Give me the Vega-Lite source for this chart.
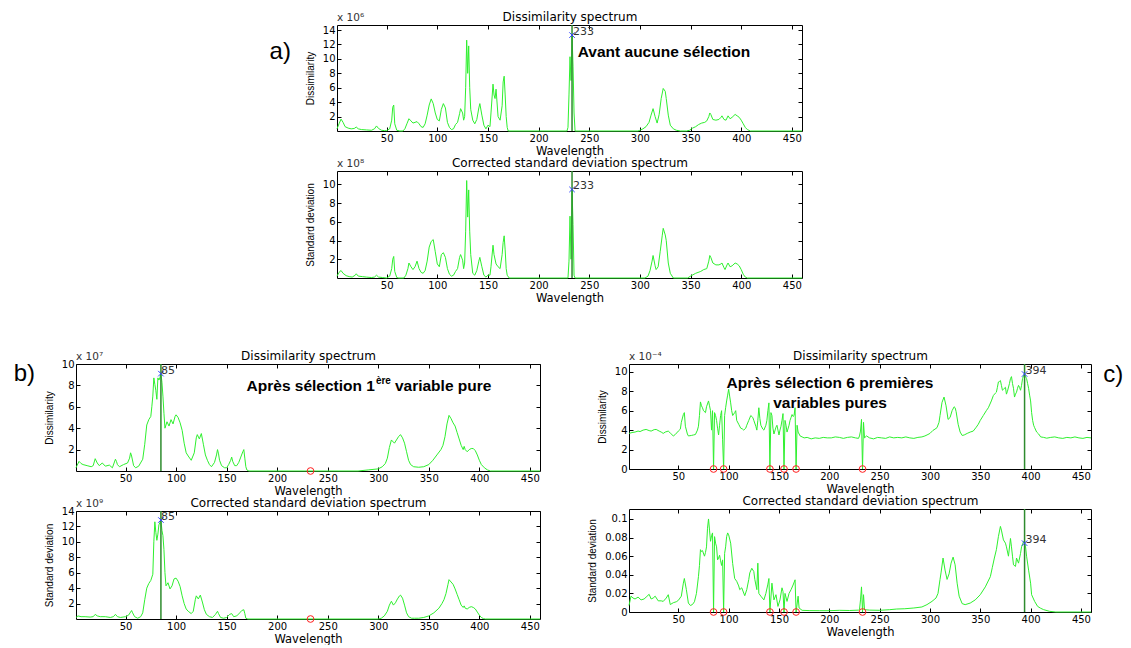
{
"$schema": "https://vega.github.io/schema/vega-lite/v6.json",
"background": "white",
"padding": {"left": 13, "top": 10, "right": 0, "bottom": 0},
"autosize": {"type": "pad"},
"config": {
  "view": {"stroke": "#000", "strokeWidth": 1},
  "axis": {"domain": false, "grid": false, "ticks": true, "tickSize": -4, "tickColor": "#000", "tickWidth": 1,
           "labelFont": "DejaVu Sans", "labelFontSize": 10, "labelColor": "#000", "labelPadding": 6,
           "titleFont": "DejaVu Sans", "titleFontSize": 11.5, "titleFontWeight": "normal", "titleColor": "#000", "titlePadding": 2},
  "axisTop": {"titleFontSize": 12, "titlePadding": 1},
  "axisY": {"titleFont": "Liberation Sans", "titleFontSize": 10, "titlePadding": 7}
},
"datasets": {
"a_top": [
{"w":1,"v":0.3},{"w":3,"v":1.0},{"w":5,"v":1.65},{"w":7,"v":1.2},{"w":9,"v":0.6},{"w":12,"v":0.4},{"w":15,"v":0.3},{"w":18,"v":0.35},{"w":20,"v":0.55},{"w":22,"v":0.3},{"w":25,"v":0.2},{"w":30,"v":0.15},{"w":35,"v":0.1},{"w":38,"v":0.3},{"w":40,"v":0.7},{"w":42,"v":0.35},{"w":45,"v":0.1},{"w":48,"v":0.05},{"w":50,"v":0.05},{"w":53,"v":0.3},{"w":55,"v":1.5},{"w":56,"v":3.3},{"w":57,"v":3.6},{"w":58,"v":1.0},{"w":60,"v":0.1},{"w":63,"v":0},{"w":66,"v":0},{"w":68,"v":0.3},{"w":70,"v":1.0},{"w":72,"v":1.7},{"w":74,"v":1.4},{"w":76,"v":1.1},{"w":78,"v":1.2},{"w":80,"v":1.3},{"w":82,"v":1.0},{"w":84,"v":0.6},{"w":86,"v":0.5},{"w":88,"v":1.0},{"w":90,"v":2.2},{"w":92,"v":3.6},{"w":94,"v":4.45},{"w":96,"v":3.8},{"w":98,"v":2.5},{"w":100,"v":1.6},{"w":102,"v":1.4},{"w":104,"v":3.0},{"w":106,"v":3.8},{"w":108,"v":3.2},{"w":110,"v":1.2},{"w":112,"v":0.5},{"w":114,"v":0.2},{"w":116,"v":0.3},{"w":118,"v":0.9},{"w":120,"v":1.2},{"w":122,"v":2.4},{"w":123,"v":3.1},{"w":125,"v":2.5},{"w":126,"v":1.5},{"w":127,"v":2.0},{"w":128,"v":6.0},{"w":129,"v":12.6},{"w":130,"v":8.0},{"w":131,"v":11.8},{"w":132,"v":6.0},{"w":133,"v":3.0},{"w":135,"v":1.5},{"w":137,"v":1.0},{"w":139,"v":1.6},{"w":141,"v":3.2},{"w":142,"v":3.8},{"w":144,"v":2.2},{"w":146,"v":0.8},{"w":148,"v":0.3},{"w":150,"v":0.8},{"w":152,"v":0.6},{"w":153,"v":2.5},{"w":155,"v":6.5},{"w":156,"v":5.0},{"w":157,"v":4.5},{"w":158,"v":5.8},{"w":160,"v":2.0},{"w":162,"v":1.5},{"w":164,"v":3.5},{"w":165,"v":6.8},{"w":166,"v":7.6},{"w":167,"v":5.0},{"w":168,"v":2.0},{"w":169,"v":0.5},{"w":170,"v":0},{"w":228,"v":0},{"w":229,"v":0.5},{"w":230,"v":5.0},{"w":231,"v":10.3},{"w":232,"v":7.0},{"w":233,"v":13.3},{"w":234,"v":9.0},{"w":235,"v":2.5},{"w":236,"v":0},{"w":298,"v":0},{"w":300,"v":0.1},{"w":303,"v":0.3},{"w":306,"v":0.6},{"w":309,"v":1.2},{"w":311,"v":2.2},{"w":313,"v":3.1},{"w":315,"v":2.0},{"w":317,"v":1.1},{"w":319,"v":2.3},{"w":321,"v":4.5},{"w":323,"v":5.9},{"w":325,"v":5.5},{"w":326,"v":4.5},{"w":328,"v":2.2},{"w":330,"v":0.8},{"w":333,"v":0.3},{"w":336,"v":0.1},{"w":340,"v":0},{"w":346,"v":0},{"w":349,"v":0.1},{"w":352,"v":0.4},{"w":355,"v":0.6},{"w":358,"v":0.9},{"w":361,"v":1.1},{"w":364,"v":1.2},{"w":366,"v":1.4},{"w":368,"v":2.0},{"w":369,"v":2.5},{"w":370,"v":2.3},{"w":372,"v":1.6},{"w":375,"v":1.5},{"w":378,"v":1.6},{"w":380,"v":1.9},{"w":381,"v":2.1},{"w":383,"v":1.6},{"w":385,"v":1.5},{"w":387,"v":2.1},{"w":389,"v":1.7},{"w":391,"v":1.9},{"w":394,"v":2.3},{"w":396,"v":2.1},{"w":398,"v":1.9},{"w":400,"v":1.5},{"w":402,"v":1.0},{"w":404,"v":0.5},{"w":406,"v":0.2},{"w":409,"v":0},{"w":460,"v":0}
],
"a_bot": [
{"w":1,"v":0.2},{"w":3,"v":0.6},{"w":5,"v":0.8},{"w":7,"v":0.5},{"w":10,"v":0.25},{"w":13,"v":0.15},{"w":16,"v":0.1},{"w":19,"v":0.3},{"w":20,"v":0.45},{"w":22,"v":0.2},{"w":26,"v":0.15},{"w":30,"v":0.1},{"w":35,"v":0.05},{"w":38,"v":0.1},{"w":40,"v":0.3},{"w":42,"v":0.1},{"w":46,"v":0.05},{"w":50,"v":0},{"w":53,"v":0.2},{"w":55,"v":1.0},{"w":56,"v":2.0},{"w":57,"v":2.3},{"w":58,"v":0.7},{"w":60,"v":0.05},{"w":62,"v":0},{"w":67,"v":0},{"w":69,"v":0.3},{"w":71,"v":1.0},{"w":72,"v":1.6},{"w":74,"v":1.2},{"w":76,"v":0.9},{"w":78,"v":1.2},{"w":80,"v":1.8},{"w":82,"v":1.0},{"w":84,"v":0.6},{"w":86,"v":0.5},{"w":88,"v":0.8},{"w":90,"v":1.8},{"w":92,"v":3.3},{"w":94,"v":3.9},{"w":96,"v":4.1},{"w":98,"v":2.8},{"w":100,"v":1.5},{"w":102,"v":1.2},{"w":104,"v":2.5},{"w":106,"v":2.7},{"w":108,"v":2.2},{"w":110,"v":1.0},{"w":112,"v":0.4},{"w":114,"v":0.2},{"w":116,"v":0.3},{"w":118,"v":0.7},{"w":120,"v":1.0},{"w":122,"v":2.2},{"w":123,"v":2.5},{"w":125,"v":1.9},{"w":126,"v":1.0},{"w":127,"v":1.6},{"w":128,"v":5.0},{"w":129,"v":10.4},{"w":130,"v":6.5},{"w":131,"v":9.4},{"w":132,"v":5.0},{"w":133,"v":2.5},{"w":135,"v":0.5},{"w":137,"v":0.3},{"w":139,"v":0.8},{"w":141,"v":1.8},{"w":142,"v":2.2},{"w":144,"v":1.2},{"w":146,"v":0.3},{"w":148,"v":0.1},{"w":150,"v":0.3},{"w":152,"v":0.3},{"w":153,"v":1.2},{"w":155,"v":3.5},{"w":156,"v":2.5},{"w":158,"v":1.5},{"w":160,"v":1.2},{"w":162,"v":1.0},{"w":164,"v":2.5},{"w":165,"v":3.8},{"w":166,"v":4.5},{"w":167,"v":3.0},{"w":168,"v":1.0},{"w":169,"v":0.3},{"w":171,"v":0},{"w":229,"v":0},{"w":230,"v":1.8},{"w":231,"v":6.6},{"w":232,"v":2.0},{"w":233,"v":9.45},{"w":234,"v":5.7},{"w":235,"v":0.3},{"w":236,"v":0},{"w":305,"v":0},{"w":308,"v":0.2},{"w":310,"v":0.8},{"w":312,"v":1.8},{"w":313,"v":2.4},{"w":315,"v":1.3},{"w":316,"v":0.9},{"w":318,"v":1.2},{"w":320,"v":2.8},{"w":322,"v":4.5},{"w":323,"v":5.3},{"w":325,"v":4.6},{"w":326,"v":4.0},{"w":328,"v":1.6},{"w":330,"v":0.5},{"w":333,"v":0},{"w":347,"v":0},{"w":350,"v":0.2},{"w":355,"v":0.5},{"w":360,"v":0.7},{"w":363,"v":0.9},{"w":366,"v":1.0},{"w":368,"v":1.8},{"w":369,"v":2.4},{"w":370,"v":2.2},{"w":372,"v":1.6},{"w":375,"v":1.4},{"w":378,"v":1.4},{"w":380,"v":1.5},{"w":381,"v":1.6},{"w":383,"v":1.1},{"w":384,"v":0.9},{"w":386,"v":1.4},{"w":387,"v":1.6},{"w":389,"v":1.2},{"w":391,"v":1.3},{"w":394,"v":1.6},{"w":396,"v":1.5},{"w":398,"v":1.3},{"w":400,"v":0.9},{"w":402,"v":0.4},{"w":404,"v":0.1},{"w":406,"v":0},{"w":460,"v":0}
],
"b_top": [
{"w":1,"v":0.3},{"w":2,"v":0.5},{"w":4,"v":0.9},{"w":6,"v":0.7},{"w":8,"v":0.6},{"w":12,"v":0.5},{"w":16,"v":0.4},{"w":18,"v":0.5},{"w":20,"v":1.15},{"w":22,"v":0.75},{"w":24,"v":0.5},{"w":27,"v":0.75},{"w":30,"v":0.45},{"w":34,"v":0.55},{"w":37,"v":0.3},{"w":40,"v":1.1},{"w":41,"v":0.9},{"w":42,"v":0.6},{"w":44,"v":0.4},{"w":48,"v":0.6},{"w":52,"v":0.75},{"w":54,"v":1.2},{"w":55,"v":1.7},{"w":56,"v":1.4},{"w":58,"v":0.5},{"w":60,"v":0.3},{"w":63,"v":0.45},{"w":67,"v":1.1},{"w":69,"v":2.5},{"w":71,"v":4.3},{"w":73,"v":4.8},{"w":75,"v":5.1},{"w":76,"v":6.0},{"w":77,"v":7.0},{"w":78,"v":8.7},{"w":79,"v":8.1},{"w":80,"v":7.5},{"w":81,"v":6.7},{"w":82,"v":8.7},{"w":83,"v":8.5},{"w":84,"v":8.7},{"w":85,"v":9.1},{"w":86,"v":8.3},{"w":87,"v":7.0},{"w":88,"v":5.4},{"w":89,"v":4.0},{"w":91,"v":4.6},{"w":93,"v":4.2},{"w":95,"v":4.8},{"w":97,"v":4.4},{"w":99,"v":5.1},{"w":100,"v":5.25},{"w":102,"v":5.0},{"w":104,"v":4.5},{"w":106,"v":3.8},{"w":108,"v":2.6},{"w":110,"v":1.7},{"w":112,"v":1.4},{"w":115,"v":1.0},{"w":118,"v":1.7},{"w":120,"v":3.1},{"w":121,"v":3.4},{"w":123,"v":3.0},{"w":125,"v":3.5},{"w":127,"v":2.5},{"w":129,"v":1.5},{"w":131,"v":1.0},{"w":133,"v":0.6},{"w":135,"v":0.4},{"w":138,"v":0.8},{"w":140,"v":1.5},{"w":141,"v":2.0},{"w":142,"v":1.6},{"w":143,"v":1.0},{"w":145,"v":0.5},{"w":148,"v":0.3},{"w":150,"v":0.3},{"w":152,"v":0.6},{"w":154,"v":1.0},{"w":155,"v":1.3},{"w":156,"v":0.9},{"w":158,"v":0.5},{"w":160,"v":0.5},{"w":162,"v":0.8},{"w":164,"v":1.3},{"w":166,"v":1.8},{"w":167,"v":2.0},{"w":168,"v":1.2},{"w":169,"v":0.4},{"w":170,"v":0.1},{"w":172,"v":0},{"w":280,"v":0},{"w":290,"v":0.1},{"w":300,"v":0.2},{"w":304,"v":0.4},{"w":307,"v":0.7},{"w":309,"v":1.2},{"w":311,"v":2.2},{"w":313,"v":2.9},{"w":315,"v":2.7},{"w":316,"v":2.6},{"w":318,"v":2.9},{"w":320,"v":3.2},{"w":322,"v":3.4},{"w":324,"v":3.1},{"w":326,"v":2.6},{"w":328,"v":1.8},{"w":330,"v":1.0},{"w":332,"v":0.6},{"w":335,"v":0.4},{"w":340,"v":0.35},{"w":345,"v":0.4},{"w":350,"v":0.6},{"w":354,"v":1.0},{"w":358,"v":1.5},{"w":362,"v":2.0},{"w":364,"v":2.4},{"w":366,"v":3.2},{"w":368,"v":4.4},{"w":370,"v":5.2},{"w":372,"v":4.9},{"w":374,"v":4.5},{"w":376,"v":4.2},{"w":378,"v":3.6},{"w":380,"v":3.0},{"w":382,"v":2.4},{"w":384,"v":2.0},{"w":385,"v":2.3},{"w":386,"v":2.0},{"w":388,"v":1.8},{"w":390,"v":2.0},{"w":392,"v":2.1},{"w":394,"v":2.1},{"w":396,"v":1.9},{"w":398,"v":1.5},{"w":400,"v":1.0},{"w":402,"v":0.6},{"w":405,"v":0.3},{"w":408,"v":0.1},{"w":411,"v":0},{"w":460,"v":0}
],
"b_bot": [
{"w":1,"v":0.2},{"w":3,"v":0.4},{"w":6,"v":0.3},{"w":10,"v":0.3},{"w":15,"v":0.25},{"w":18,"v":0.3},{"w":20,"v":0.6},{"w":22,"v":0.4},{"w":25,"v":0.3},{"w":30,"v":0.3},{"w":35,"v":0.2},{"w":38,"v":0.3},{"w":40,"v":0.6},{"w":42,"v":0.3},{"w":45,"v":0.2},{"w":50,"v":0.3},{"w":53,"v":0.5},{"w":55,"v":0.9},{"w":56,"v":1.1},{"w":57,"v":0.8},{"w":59,"v":0.3},{"w":62,"v":0.1},{"w":65,"v":0.3},{"w":67,"v":0.8},{"w":69,"v":2.5},{"w":71,"v":4.0},{"w":73,"v":4.6},{"w":75,"v":5.0},{"w":77,"v":5.8},{"w":78,"v":10.0},{"w":79,"v":12.6},{"w":80,"v":11.2},{"w":81,"v":10.2},{"w":82,"v":11.0},{"w":83,"v":12.2},{"w":84,"v":12.5},{"w":85,"v":12.83},{"w":86,"v":11.5},{"w":87,"v":10.8},{"w":88,"v":9.0},{"w":89,"v":6.0},{"w":90,"v":4.3},{"w":92,"v":4.7},{"w":94,"v":3.9},{"w":96,"v":4.3},{"w":98,"v":5.2},{"w":100,"v":5.3},{"w":102,"v":4.9},{"w":104,"v":4.2},{"w":106,"v":3.0},{"w":108,"v":2.0},{"w":110,"v":1.3},{"w":112,"v":1.0},{"w":115,"v":0.7},{"w":117,"v":1.0},{"w":119,"v":2.5},{"w":120,"v":3.0},{"w":122,"v":2.6},{"w":124,"v":3.1},{"w":126,"v":2.2},{"w":128,"v":1.2},{"w":130,"v":0.6},{"w":133,"v":0.3},{"w":136,"v":0.2},{"w":139,"v":0.6},{"w":141,"v":1.0},{"w":142,"v":0.7},{"w":144,"v":0.2},{"w":147,"v":0.1},{"w":150,"v":0.2},{"w":153,"v":0.6},{"w":155,"v":0.7},{"w":157,"v":0.3},{"w":160,"v":0.4},{"w":163,"v":0.8},{"w":165,"v":1.1},{"w":167,"v":1.2},{"w":168,"v":0.7},{"w":169,"v":0.1},{"w":171,"v":0},{"w":300,"v":0},{"w":303,"v":0.1},{"w":306,"v":0.4},{"w":309,"v":1.0},{"w":311,"v":1.8},{"w":313,"v":2.3},{"w":315,"v":1.8},{"w":317,"v":2.1},{"w":319,"v":2.6},{"w":321,"v":3.0},{"w":322,"v":3.1},{"w":324,"v":2.7},{"w":326,"v":1.8},{"w":328,"v":0.8},{"w":330,"v":0.3},{"w":333,"v":0.1},{"w":336,"v":0.1},{"w":340,"v":0.1},{"w":345,"v":0.2},{"w":350,"v":0.4},{"w":355,"v":0.8},{"w":360,"v":1.4},{"w":363,"v":2.0},{"w":365,"v":2.5},{"w":367,"v":3.3},{"w":369,"v":4.5},{"w":370,"v":5.1},{"w":372,"v":4.8},{"w":374,"v":4.5},{"w":376,"v":3.9},{"w":378,"v":3.2},{"w":380,"v":2.5},{"w":382,"v":1.8},{"w":384,"v":1.5},{"w":385,"v":1.7},{"w":386,"v":1.4},{"w":388,"v":1.3},{"w":390,"v":1.5},{"w":392,"v":1.6},{"w":394,"v":1.5},{"w":396,"v":1.3},{"w":398,"v":0.9},{"w":400,"v":0.5},{"w":402,"v":0.2},{"w":404,"v":0.05},{"w":406,"v":0},{"w":460,"v":0}
],
"c_top": [
{"w":1,"v":3.66},{"w":4,"v":3.75},{"w":7,"v":3.8},{"w":10,"v":3.9},{"w":12,"v":3.85},{"w":15,"v":4.0},{"w":18,"v":4.07},{"w":21,"v":3.95},{"w":23,"v":3.9},{"w":26,"v":4.05},{"w":28,"v":4.07},{"w":31,"v":3.9},{"w":33,"v":3.8},{"w":35,"v":3.66},{"w":37,"v":3.8},{"w":40,"v":3.9},{"w":42,"v":3.7},{"w":45,"v":3.4},{"w":47,"v":3.55},{"w":50,"v":3.9},{"w":52,"v":4.1},{"w":53,"v":4.8},{"w":55,"v":5.6},{"w":56,"v":5.8},{"w":57,"v":4.4},{"w":59,"v":3.6},{"w":60,"v":3.4},{"w":63,"v":3.45},{"w":65,"v":3.5},{"w":67,"v":3.55},{"w":69,"v":4.0},{"w":70,"v":4.4},{"w":71,"v":5.5},{"w":72,"v":6.9},{"w":73,"v":6.5},{"w":74,"v":6.3},{"w":75,"v":6.0},{"w":77,"v":5.8},{"w":78,"v":6.4},{"w":80,"v":7.0},{"w":81,"v":6.5},{"w":82,"v":6.0},{"w":83,"v":4.0},{"w":84,"v":6.0},{"w":85,"v":0},{"w":86,"v":5.8},{"w":87,"v":5.5},{"w":88,"v":5.0},{"w":89,"v":4.2},{"w":90,"v":3.5},{"w":91,"v":4.5},{"w":92,"v":5.5},{"w":93,"v":6.0},{"w":94,"v":3.0},{"w":95,"v":0},{"w":96,"v":5.5},{"w":97,"v":6.3},{"w":98,"v":7.0},{"w":99,"v":7.6},{"w":100,"v":8.2},{"w":101,"v":7.5},{"w":102,"v":6.8},{"w":103,"v":6.0},{"w":104,"v":5.5},{"w":106,"v":5.8},{"w":107,"v":6.0},{"w":108,"v":5.0},{"w":110,"v":4.6},{"w":112,"v":4.2},{"w":114,"v":4.1},{"w":115,"v":4.0},{"w":117,"v":4.2},{"w":118,"v":4.5},{"w":120,"v":5.0},{"w":122,"v":5.5},{"w":124,"v":5.3},{"w":125,"v":5.0},{"w":127,"v":4.4},{"w":128,"v":4.0},{"w":129,"v":5.0},{"w":130,"v":6.3},{"w":131,"v":5.2},{"w":132,"v":4.5},{"w":134,"v":4.1},{"w":135,"v":4.0},{"w":137,"v":4.5},{"w":138,"v":5.0},{"w":139,"v":6.0},{"w":140,"v":6.8},{"w":141,"v":0},{"w":142,"v":5.8},{"w":143,"v":5.5},{"w":144,"v":4.2},{"w":145,"v":3.6},{"w":147,"v":4.3},{"w":148,"v":4.5},{"w":149,"v":4.0},{"w":150,"v":3.5},{"w":151,"v":4.0},{"w":152,"v":4.4},{"w":153,"v":5.0},{"w":154,"v":5.7},{"w":155,"v":0},{"w":156,"v":5.0},{"w":157,"v":4.5},{"w":158,"v":3.8},{"w":160,"v":4.5},{"w":161,"v":5.0},{"w":162,"v":5.3},{"w":163,"v":5.6},{"w":164,"v":5.4},{"w":165,"v":5.5},{"w":166,"v":6.3},{"w":167,"v":0},{"w":168,"v":4.5},{"w":169,"v":3.8},{"w":171,"v":3.4},{"w":173,"v":3.3},{"w":175,"v":3.2},{"w":178,"v":3.25},{"w":182,"v":3.1},{"w":186,"v":3.2},{"w":190,"v":3.15},{"w":194,"v":3.25},{"w":198,"v":3.2},{"w":202,"v":3.2},{"w":206,"v":3.3},{"w":210,"v":3.25},{"w":214,"v":3.15},{"w":218,"v":3.25},{"w":222,"v":3.3},{"w":226,"v":3.2},{"w":229,"v":3.15},{"w":230,"v":3.4},{"w":231,"v":3.9},{"w":232,"v":5.1},{"w":233,"v":0},{"w":234,"v":4.8},{"w":235,"v":3.2},{"w":237,"v":3.4},{"w":240,"v":3.2},{"w":244,"v":3.1},{"w":248,"v":3.25},{"w":252,"v":3.2},{"w":256,"v":3.15},{"w":260,"v":3.3},{"w":264,"v":3.2},{"w":268,"v":3.25},{"w":272,"v":3.2},{"w":276,"v":3.3},{"w":280,"v":3.2},{"w":284,"v":3.15},{"w":288,"v":3.25},{"w":292,"v":3.3},{"w":295,"v":3.4},{"w":298,"v":3.55},{"w":300,"v":3.66},{"w":303,"v":3.97},{"w":305,"v":4.1},{"w":307,"v":4.25},{"w":309,"v":4.8},{"w":310,"v":5.5},{"w":312,"v":6.86},{"w":314,"v":7.4},{"w":316,"v":6.5},{"w":318,"v":5.1},{"w":320,"v":5.3},{"w":322,"v":6.0},{"w":324,"v":6.4},{"w":325,"v":6.3},{"w":326,"v":5.9},{"w":328,"v":4.6},{"w":330,"v":3.8},{"w":332,"v":3.45},{"w":334,"v":3.5},{"w":337,"v":3.66},{"w":340,"v":3.8},{"w":343,"v":3.9},{"w":346,"v":4.3},{"w":348,"v":4.6},{"w":350,"v":5.0},{"w":353,"v":5.5},{"w":356,"v":6.0},{"w":358,"v":6.3},{"w":361,"v":7.0},{"w":363,"v":7.56},{"w":365,"v":7.8},{"w":366,"v":7.9},{"w":367,"v":8.4},{"w":368,"v":8.95},{"w":369,"v":9.0},{"w":370,"v":9.1},{"w":371,"v":8.6},{"w":372,"v":8.1},{"w":373,"v":8.2},{"w":375,"v":8.4},{"w":376,"v":7.7},{"w":377,"v":8.0},{"w":379,"v":8.8},{"w":380,"v":9.3},{"w":381,"v":9.5},{"w":382,"v":8.8},{"w":383,"v":8.3},{"w":384,"v":7.4},{"w":385,"v":7.7},{"w":386,"v":7.9},{"w":387,"v":8.3},{"w":388,"v":8.6},{"w":389,"v":8.4},{"w":390,"v":8.1},{"w":391,"v":8.6},{"w":392,"v":9.3},{"w":393,"v":9.6},{"w":394,"v":9.8},{"w":395,"v":9.5},{"w":396,"v":9.3},{"w":397,"v":8.8},{"w":398,"v":8.3},{"w":399,"v":7.6},{"w":400,"v":7.0},{"w":401,"v":5.8},{"w":402,"v":5.0},{"w":403,"v":4.5},{"w":404,"v":4.25},{"w":406,"v":3.8},{"w":408,"v":3.6},{"w":410,"v":3.3},{"w":413,"v":3.25},{"w":416,"v":3.17},{"w":420,"v":3.25},{"w":424,"v":3.3},{"w":428,"v":3.2},{"w":432,"v":3.15},{"w":436,"v":3.25},{"w":440,"v":3.2},{"w":444,"v":3.3},{"w":448,"v":3.2},{"w":452,"v":3.15},{"w":456,"v":3.25},{"w":460,"v":3.2}
],
"c_bot": [
{"w":1,"v":0.007},{"w":3,"v":0.017},{"w":5,"v":0.015},{"w":7,"v":0.014},{"w":10,"v":0.016},{"w":13,"v":0.013},{"w":16,"v":0.014},{"w":18,"v":0.016},{"w":21,"v":0.019},{"w":23,"v":0.014},{"w":25,"v":0.015},{"w":27,"v":0.017},{"w":30,"v":0.012},{"w":33,"v":0.012},{"w":35,"v":0.0114},{"w":38,"v":0.015},{"w":40,"v":0.0186},{"w":42,"v":0.008},{"w":45,"v":0.01},{"w":48,"v":0.011},{"w":50,"v":0.0125},{"w":53,"v":0.017},{"w":55,"v":0.031},{"w":56,"v":0.036},{"w":58,"v":0.024},{"w":60,"v":0.0096},{"w":62,"v":0.007},{"w":64,"v":0.008},{"w":66,"v":0.011},{"w":68,"v":0.02},{"w":70,"v":0.038},{"w":71,"v":0.05},{"w":72,"v":0.067},{"w":73,"v":0.065},{"w":74,"v":0.066},{"w":76,"v":0.06},{"w":77,"v":0.064},{"w":78,"v":0.07},{"w":79,"v":0.09},{"w":80,"v":0.1},{"w":81,"v":0.088},{"w":82,"v":0.076},{"w":83,"v":0.082},{"w":84,"v":0.085},{"w":85,"v":0},{"w":86,"v":0.081},{"w":87,"v":0.074},{"w":88,"v":0.07},{"w":89,"v":0.056},{"w":90,"v":0.058},{"w":91,"v":0.061},{"w":92,"v":0.055},{"w":93,"v":0.05},{"w":94,"v":0.056},{"w":95,"v":0},{"w":96,"v":0.063},{"w":97,"v":0.07},{"w":98,"v":0.081},{"w":99,"v":0.085},{"w":100,"v":0.083},{"w":102,"v":0.074},{"w":104,"v":0.052},{"w":106,"v":0.036},{"w":108,"v":0.033},{"w":110,"v":0.028},{"w":111,"v":0.024},{"w":113,"v":0.026},{"w":116,"v":0.0175},{"w":118,"v":0.024},{"w":120,"v":0.035},{"w":121,"v":0.042},{"w":123,"v":0.047},{"w":125,"v":0.0435},{"w":126,"v":0.035},{"w":128,"v":0.024},{"w":129,"v":0.0525},{"w":130,"v":0.02},{"w":132,"v":0.017},{"w":135,"v":0.013},{"w":137,"v":0.02},{"w":139,"v":0.03},{"w":140,"v":0.036},{"w":141,"v":0},{"w":143,"v":0.031},{"w":145,"v":0.013},{"w":147,"v":0.0186},{"w":149,"v":0.006},{"w":151,"v":0.013},{"w":153,"v":0.026},{"w":154,"v":0.022},{"w":155,"v":0},{"w":156,"v":0.02},{"w":158,"v":0.0114},{"w":160,"v":0.02},{"w":162,"v":0.024},{"w":164,"v":0.029},{"w":166,"v":0.0346},{"w":167,"v":0},{"w":169,"v":0.017},{"w":170,"v":0.0043},{"w":173,"v":0.0018},{"w":180,"v":0.0015},{"w":190,"v":0.0014},{"w":200,"v":0.0014},{"w":210,"v":0.0018},{"w":220,"v":0.0016},{"w":229,"v":0.002},{"w":230,"v":0.0025},{"w":231,"v":0.013},{"w":232,"v":0.027},{"w":233,"v":0},{"w":234,"v":0.0186},{"w":235,"v":0.0025},{"w":240,"v":0.002},{"w":250,"v":0.0018},{"w":260,"v":0.0025},{"w":267,"v":0.0032},{"w":275,"v":0.0035},{"w":284,"v":0.0043},{"w":292,"v":0.0054},{"w":297,"v":0.0079},{"w":302,"v":0.0114},{"w":306,"v":0.015},{"w":308,"v":0.02},{"w":310,"v":0.035},{"w":311,"v":0.042},{"w":313,"v":0.058},{"w":315,"v":0.045},{"w":317,"v":0.035},{"w":319,"v":0.041},{"w":321,"v":0.0525},{"w":323,"v":0.059},{"w":325,"v":0.0507},{"w":327,"v":0.031},{"w":329,"v":0.017},{"w":332,"v":0.009},{"w":335,"v":0.0079},{"w":340,"v":0.0096},{"w":345,"v":0.013},{"w":350,"v":0.0186},{"w":355,"v":0.027},{"w":360,"v":0.038},{"w":362,"v":0.048},{"w":364,"v":0.058},{"w":366,"v":0.067},{"w":368,"v":0.081},{"w":370,"v":0.092},{"w":371,"v":0.088},{"w":373,"v":0.0775},{"w":375,"v":0.074},{"w":376,"v":0.07},{"w":378,"v":0.06},{"w":380,"v":0.079},{"w":381,"v":0.07},{"w":382,"v":0.06},{"w":383,"v":0.0507},{"w":385,"v":0.049},{"w":386,"v":0.058},{"w":388,"v":0.0525},{"w":390,"v":0.063},{"w":391,"v":0.07},{"w":393,"v":0.0757},{"w":394,"v":0.074},{"w":395,"v":0.07},{"w":396,"v":0.06},{"w":398,"v":0.045},{"w":400,"v":0.031},{"w":401,"v":0.0186},{"w":404,"v":0.0114},{"w":407,"v":0.006},{"w":410,"v":0.004},{"w":413,"v":0.0025},{"w":419,"v":0.0007},{"w":425,"v":0},{"w":460,"v":0}
]
},
"spacing": 45,
"vconcat": [
 {"spacing": 0, "hconcat": [
  {"width": 193, "height": 1, "view": {"stroke": null}, "data": {"values": [{"k": 0}]}, "mark": {"type": "point", "opacity": 0}},
  {"spacing": 40, "bounds": "flush", "vconcat": [
   {"width": 465, "height": 106,
    "layer": [
     {"data": {"name": "a_top"}, "mark": {"type": "line", "color": "#2ef02e", "strokeWidth": 1},
      "encoding": {
       "x": {"field": "w", "type": "quantitative", "scale": {"domain": [1, 460], "nice": false, "zero": false},
             "axis": {"orient": "bottom", "values": [50,100,150,200,250,300,350,400,450], "title": "Wavelength"}},
       "y": {"field": "v", "type": "quantitative", "scale": {"domain": [0, 14.7], "nice": false, "zero": false},
             "axis": {"orient": "left", "values": [2,4,6,8,10,12,14], "title": "Dissimilarity"}}}},
     {"data": {"values": [{"w": 233}]}, "mark": {"type": "rule", "color": "#2e8b2e", "strokeWidth": 1.5},
      "encoding": {"x": {"field": "w", "type": "quantitative",
        "axis": {"orient": "top", "values": [50,100,150,200,250,300,350,400,450], "labels": false, "title": "Dissimilarity spectrum"}}}},
     {"data": {"values": [{"w": 233, "v": 13.3}]}, "mark": {"type": "point", "shape": "M-1,-1L1,1M-1,1L1,-1", "filled": false, "color": "#3344ff", "size": 30, "strokeWidth": 1, "opacity": 1},
      "encoding": {"x": {"field": "w", "type": "quantitative", "axis": null},
                   "y": {"field": "v", "type": "quantitative", "axis": {"orient": "right", "values": [2,4,6,8,10,12,14], "labels": false, "title": null}}}},
     {"data": {"values": [{"w": 233, "v": 13.3, "t": "233"}]}, "mark": {"type": "text", "align": "left", "baseline": "middle", "dx": 1, "dy": -3, "font": "DejaVu Sans", "fontSize": 11, "color": "#333"},
      "encoding": {"x": {"field": "w", "type": "quantitative", "axis": null}, "y": {"field": "v", "type": "quantitative", "axis": null}, "text": {"field": "t"}}},
     {"data": {"values": [{"w": 1, "v": 14.7, "t": "x 10⁶"}]}, "mark": {"type": "text", "align": "left", "baseline": "alphabetic", "dy": -4, "font": "DejaVu Sans", "fontSize": 10.5, "color": "#333"},
      "encoding": {"x": {"field": "w", "type": "quantitative", "axis": null}, "y": {"field": "v", "type": "quantitative", "axis": null}, "text": {"field": "t"}}},
     {"data": {"values": [{"w": -55, "v": 10.93, "t": "a)"}]}, "mark": {"type": "text", "align": "center", "baseline": "middle", "font": "Liberation Sans", "fontSize": 24, "color": "#000"},
      "encoding": {"x": {"field": "w", "type": "quantitative", "axis": null}, "y": {"field": "v", "type": "quantitative", "axis": null}, "text": {"field": "t"}}},
     {"data": {"values": [{"w": 323.8, "v": 11.02, "t": "Avant aucune sélection"}]}, "mark": {"type": "text", "align": "center", "baseline": "middle", "font": "Liberation Sans", "fontSize": 15.5, "fontWeight": "bold", "color": "#000"},
      "encoding": {"x": {"field": "w", "type": "quantitative", "axis": null}, "y": {"field": "v", "type": "quantitative", "axis": null}, "text": {"field": "t"}}}
    ],
    "resolve": {"axis": {"x": "independent", "y": "independent"}}
   },
   {"width": 465, "height": 107,
    "layer": [
     {"data": {"name": "a_bot"}, "mark": {"type": "line", "color": "#2ef02e", "strokeWidth": 1},
      "encoding": {
       "x": {"field": "w", "type": "quantitative", "scale": {"domain": [1, 460], "nice": false, "zero": false},
             "axis": {"orient": "bottom", "values": [50,100,150,200,250,300,350,400,450], "title": "Wavelength"}},
       "y": {"field": "v", "type": "quantitative", "scale": {"domain": [0, 11.42], "nice": false, "zero": false},
             "axis": {"orient": "left", "values": [2,4,6,8,10], "title": "Standard deviation"}}}},
     {"data": {"values": [{"w": 233}]}, "mark": {"type": "rule", "color": "#2e8b2e", "strokeWidth": 1.5},
      "encoding": {"x": {"field": "w", "type": "quantitative",
        "axis": {"orient": "top", "values": [50,100,150,200,250,300,350,400,450], "labels": false, "title": "Corrected standard deviation spectrum"}}}},
     {"data": {"values": [{"w": 233, "v": 9.45}]}, "mark": {"type": "point", "shape": "M-1,-1L1,1M-1,1L1,-1", "filled": false, "color": "#3344ff", "size": 30, "strokeWidth": 1, "opacity": 1},
      "encoding": {"x": {"field": "w", "type": "quantitative", "axis": null},
                   "y": {"field": "v", "type": "quantitative", "axis": {"orient": "right", "values": [2,4,6,8,10], "labels": false, "title": null}}}},
     {"data": {"values": [{"w": 233, "v": 9.45, "t": "233"}]}, "mark": {"type": "text", "align": "left", "baseline": "middle", "dx": 1, "dy": -3, "font": "DejaVu Sans", "fontSize": 11, "color": "#333"},
      "encoding": {"x": {"field": "w", "type": "quantitative", "axis": null}, "y": {"field": "v", "type": "quantitative", "axis": null}, "text": {"field": "t"}}},
     {"data": {"values": [{"w": 1, "v": 11.42, "t": "x 10⁸"}]}, "mark": {"type": "text", "align": "left", "baseline": "alphabetic", "dy": -4, "font": "DejaVu Sans", "fontSize": 10.5, "color": "#333"},
      "encoding": {"x": {"field": "w", "type": "quantitative", "axis": null}, "y": {"field": "v", "type": "quantitative", "axis": null}, "text": {"field": "t"}}}
    ],
    "resolve": {"axis": {"x": "independent", "y": "independent"}}
   }
  ]}
 ]},
 {"spacing": 44, "hconcat": [
  {"spacing": 40, "bounds": "flush", "vconcat": [
   {"width": 464, "height": 107,
    "layer": [
     {"data": {"name": "b_top"}, "mark": {"type": "line", "color": "#2ef02e", "strokeWidth": 1},
      "encoding": {
       "x": {"field": "w", "type": "quantitative", "scale": {"domain": [1, 460], "nice": false, "zero": false},
             "axis": {"orient": "bottom", "values": [50,100,150,200,250,300,350,400,450], "title": "Wavelength"}},
       "y": {"field": "v", "type": "quantitative", "scale": {"domain": [0, 10], "nice": false, "zero": false},
             "axis": {"orient": "left", "values": [2,4,6,8,10], "title": "Dissimilarity"}}}},
     {"data": {"values": [{"w": 85}]}, "mark": {"type": "rule", "color": "#2e8b2e", "strokeWidth": 1.5},
      "encoding": {"x": {"field": "w", "type": "quantitative",
        "axis": {"orient": "top", "values": [50,100,150,200,250,300,350,400,450], "labels": false, "title": "Dissimilarity spectrum"}}}},
     {"data": {"values": [{"w": 85, "v": 9.1}]}, "mark": {"type": "point", "shape": "M-1,-1L1,1M-1,1L1,-1", "filled": false, "color": "#3344ff", "size": 30, "strokeWidth": 1, "opacity": 1},
      "encoding": {"x": {"field": "w", "type": "quantitative", "axis": null},
                   "y": {"field": "v", "type": "quantitative", "axis": {"orient": "right", "values": [2,4,6,8,10], "labels": false, "title": null}}}},
     {"data": {"values": [{"w": 233, "v": 0}]}, "mark": {"type": "point", "shape": "circle", "filled": false, "color": "#ff2020", "size": 45, "strokeWidth": 1, "opacity": 1},
      "encoding": {"x": {"field": "w", "type": "quantitative", "axis": null}, "y": {"field": "v", "type": "quantitative", "axis": null}}},
     {"data": {"values": [{"w": 85, "v": 9.1, "t": "85"}]}, "mark": {"type": "text", "align": "left", "baseline": "middle", "dx": 0, "dy": -3, "font": "DejaVu Sans", "fontSize": 11, "color": "#333"},
      "encoding": {"x": {"field": "w", "type": "quantitative", "axis": null}, "y": {"field": "v", "type": "quantitative", "axis": null}, "text": {"field": "t"}}},
     {"data": {"values": [{"w": 1, "v": 10, "t": "x 10⁷"}]}, "mark": {"type": "text", "align": "left", "baseline": "alphabetic", "dy": -4, "font": "DejaVu Sans", "fontSize": 10.5, "color": "#333"},
      "encoding": {"x": {"field": "w", "type": "quantitative", "axis": null}, "y": {"field": "v", "type": "quantitative", "axis": null}, "text": {"field": "t"}}},
     {"data": {"values": [{"w": -50, "v": 9.02, "t": "b)"}]}, "mark": {"type": "text", "align": "center", "baseline": "middle", "font": "Liberation Sans", "fontSize": 24, "color": "#000"},
      "encoding": {"x": {"field": "w", "type": "quantitative", "axis": null}, "y": {"field": "v", "type": "quantitative", "axis": null}, "text": {"field": "t"}}},
     {"data": {"values": [{"w": 296.7, "v": 7.92, "t": "Après sélection 1"}]}, "mark": {"type": "text", "align": "right", "baseline": "middle", "font": "Liberation Sans", "fontSize": 15.5, "fontWeight": "bold", "color": "#000"},
      "encoding": {"x": {"field": "w", "type": "quantitative", "axis": null}, "y": {"field": "v", "type": "quantitative", "axis": null}, "text": {"field": "t"}}},
     {"data": {"values": [{"w": 296.7, "v": 7.92, "t": "ère"}]}, "mark": {"type": "text", "align": "left", "baseline": "middle", "dx": 1, "dy": -5, "font": "Liberation Sans", "fontSize": 10, "fontWeight": "bold", "color": "#000"},
      "encoding": {"x": {"field": "w", "type": "quantitative", "axis": null}, "y": {"field": "v", "type": "quantitative", "axis": null}, "text": {"field": "t"}}},
     {"data": {"values": [{"w": 296.7, "v": 7.92, "t": "variable pure"}]}, "mark": {"type": "text", "align": "left", "baseline": "middle", "dx": 20, "font": "Liberation Sans", "fontSize": 15.5, "fontWeight": "bold", "color": "#000"},
      "encoding": {"x": {"field": "w", "type": "quantitative", "axis": null}, "y": {"field": "v", "type": "quantitative", "axis": null}, "text": {"field": "t"}}}
    ],
    "resolve": {"axis": {"x": "independent", "y": "independent"}}
   },
   {"width": 464, "height": 108,
    "layer": [
     {"data": {"name": "b_bot"}, "mark": {"type": "line", "color": "#2ef02e", "strokeWidth": 1},
      "encoding": {
       "x": {"field": "w", "type": "quantitative", "scale": {"domain": [1, 460], "nice": false, "zero": false},
             "axis": {"orient": "bottom", "values": [50,100,150,200,250,300,350,400,450], "title": "Wavelength"}},
       "y": {"field": "v", "type": "quantitative", "scale": {"domain": [0, 14], "nice": false, "zero": false},
             "axis": {"orient": "left", "values": [2,4,6,8,10,12,14], "title": "Standard deviation"}}}},
     {"data": {"values": [{"w": 85}]}, "mark": {"type": "rule", "color": "#2e8b2e", "strokeWidth": 1.5},
      "encoding": {"x": {"field": "w", "type": "quantitative",
        "axis": {"orient": "top", "values": [50,100,150,200,250,300,350,400,450], "labels": false, "title": "Corrected standard deviation spectrum"}}}},
     {"data": {"values": [{"w": 85, "v": 12.83}]}, "mark": {"type": "point", "shape": "M-1,-1L1,1M-1,1L1,-1", "filled": false, "color": "#3344ff", "size": 30, "strokeWidth": 1, "opacity": 1},
      "encoding": {"x": {"field": "w", "type": "quantitative", "axis": null},
                   "y": {"field": "v", "type": "quantitative", "axis": {"orient": "right", "values": [2,4,6,8,10,12,14], "labels": false, "title": null}}}},
     {"data": {"values": [{"w": 233, "v": 0}]}, "mark": {"type": "point", "shape": "circle", "filled": false, "color": "#ff2020", "size": 45, "strokeWidth": 1, "opacity": 1},
      "encoding": {"x": {"field": "w", "type": "quantitative", "axis": null}, "y": {"field": "v", "type": "quantitative", "axis": null}}},
     {"data": {"values": [{"w": 85, "v": 12.83, "t": "85"}]}, "mark": {"type": "text", "align": "left", "baseline": "middle", "dx": 0, "dy": -3, "font": "DejaVu Sans", "fontSize": 11, "color": "#333"},
      "encoding": {"x": {"field": "w", "type": "quantitative", "axis": null}, "y": {"field": "v", "type": "quantitative", "axis": null}, "text": {"field": "t"}}},
     {"data": {"values": [{"w": 1, "v": 14, "t": "x 10⁹"}]}, "mark": {"type": "text", "align": "left", "baseline": "alphabetic", "dy": -4, "font": "DejaVu Sans", "fontSize": 10.5, "color": "#333"},
      "encoding": {"x": {"field": "w", "type": "quantitative", "axis": null}, "y": {"field": "v", "type": "quantitative", "axis": null}, "text": {"field": "t"}}}
    ],
    "resolve": {"axis": {"x": "independent", "y": "independent"}}
   }
  ]},
  {"spacing": 40, "bounds": "flush", "vconcat": [
   {"width": 462, "height": 105,
    "layer": [
     {"data": {"name": "c_top"}, "mark": {"type": "line", "color": "#2ef02e", "strokeWidth": 1},
      "encoding": {
       "x": {"field": "w", "type": "quantitative", "scale": {"domain": [1, 460], "nice": false, "zero": false},
             "axis": {"orient": "bottom", "values": [50,100,150,200,250,300,350,400,450], "title": "Wavelength"}},
       "y": {"field": "v", "type": "quantitative", "scale": {"domain": [0, 10.8], "nice": false, "zero": false},
             "axis": {"orient": "left", "values": [0,2,4,6,8,10], "title": "Dissimilarity"}}}},
     {"data": {"values": [{"w": 394}]}, "mark": {"type": "rule", "color": "#2e8b2e", "strokeWidth": 1.5},
      "encoding": {"x": {"field": "w", "type": "quantitative",
        "axis": {"orient": "top", "values": [50,100,150,200,250,300,350,400,450], "labels": false, "title": "Dissimilarity spectrum"}}}},
     {"data": {"values": [{"w": 394, "v": 9.77}]}, "mark": {"type": "point", "shape": "M-1,-1L1,1M-1,1L1,-1", "filled": false, "color": "#3344ff", "size": 30, "strokeWidth": 1, "opacity": 1},
      "encoding": {"x": {"field": "w", "type": "quantitative", "axis": null},
                   "y": {"field": "v", "type": "quantitative", "axis": {"orient": "right", "values": [0,2,4,6,8,10], "labels": false, "title": null}}}},
     {"data": {"values": [{"w": 85, "v": 0}, {"w": 95, "v": 0}, {"w": 141, "v": 0}, {"w": 155, "v": 0}, {"w": 167, "v": 0}, {"w": 233, "v": 0}]}, "mark": {"type": "point", "shape": "circle", "filled": false, "color": "#ff2020", "size": 45, "strokeWidth": 1, "opacity": 1},
      "encoding": {"x": {"field": "w", "type": "quantitative", "axis": null}, "y": {"field": "v", "type": "quantitative", "axis": null}}},
     {"data": {"values": [{"w": 394, "v": 9.77, "t": "394"}]}, "mark": {"type": "text", "align": "left", "baseline": "middle", "dx": 1, "dy": -3, "font": "DejaVu Sans", "fontSize": 11, "color": "#333"},
      "encoding": {"x": {"field": "w", "type": "quantitative", "axis": null}, "y": {"field": "v", "type": "quantitative", "axis": null}, "text": {"field": "t"}}},
     {"data": {"values": [{"w": 1, "v": 10.8, "t": "x 10⁻⁴"}]}, "mark": {"type": "text", "align": "left", "baseline": "alphabetic", "dy": -4, "font": "DejaVu Sans", "fontSize": 10.5, "color": "#333"},
      "encoding": {"x": {"field": "w", "type": "quantitative", "axis": null}, "y": {"field": "v", "type": "quantitative", "axis": null}, "text": {"field": "t"}}},
     {"data": {"values": [{"w": 482, "v": 9.62, "t": "c)"}]}, "mark": {"type": "text", "align": "center", "baseline": "middle", "font": "Liberation Sans", "fontSize": 24, "color": "#000"},
      "encoding": {"x": {"field": "w", "type": "quantitative", "axis": null}, "y": {"field": "v", "type": "quantitative", "axis": null}, "text": {"field": "t"}}},
     {"data": {"values": [{"w": 200.7, "v": 8.81, "t": "Après sélection 6 premières"}, {"w": 200.7, "v": 6.79, "t": "variables pures"}]}, "mark": {"type": "text", "align": "center", "baseline": "middle", "font": "Liberation Sans", "fontSize": 15.5, "fontWeight": "bold", "color": "#000"},
      "encoding": {"x": {"field": "w", "type": "quantitative", "axis": null}, "y": {"field": "v", "type": "quantitative", "axis": null}, "text": {"field": "t"}}}
    ],
    "resolve": {"axis": {"x": "independent", "y": "independent"}}
   },
   {"width": 462, "height": 103,
    "layer": [
     {"data": {"name": "c_bot"}, "mark": {"type": "line", "color": "#2ef02e", "strokeWidth": 1},
      "encoding": {
       "x": {"field": "w", "type": "quantitative", "scale": {"domain": [1, 460], "nice": false, "zero": false},
             "axis": {"orient": "bottom", "values": [50,100,150,200,250,300,350,400,450], "title": "Wavelength"}},
       "y": {"field": "v", "type": "quantitative", "scale": {"domain": [0, 0.1107], "nice": false, "zero": false},
             "axis": {"orient": "left", "values": [0,0.02,0.04,0.06,0.08,0.1], "format": "~g", "title": "Standard deviation"}}}},
     {"data": {"values": [{"w": 394}]}, "mark": {"type": "rule", "color": "#2e8b2e", "strokeWidth": 1.5},
      "encoding": {"x": {"field": "w", "type": "quantitative",
        "axis": {"orient": "top", "values": [50,100,150,200,250,300,350,400,450], "labels": false, "title": "Corrected standard deviation spectrum"}}}},
     {"data": {"values": [{"w": 394, "v": 0.074}]}, "mark": {"type": "point", "shape": "M-1,-1L1,1M-1,1L1,-1", "filled": false, "color": "#3344ff", "size": 30, "strokeWidth": 1, "opacity": 1},
      "encoding": {"x": {"field": "w", "type": "quantitative", "axis": null},
                   "y": {"field": "v", "type": "quantitative", "axis": {"orient": "right", "values": [0,0.02,0.04,0.06,0.08,0.1], "labels": false, "title": null}}}},
     {"data": {"values": [{"w": 85, "v": 0}, {"w": 95, "v": 0}, {"w": 141, "v": 0}, {"w": 155, "v": 0}, {"w": 167, "v": 0}, {"w": 233, "v": 0}]}, "mark": {"type": "point", "shape": "circle", "filled": false, "color": "#ff2020", "size": 45, "strokeWidth": 1, "opacity": 1},
      "encoding": {"x": {"field": "w", "type": "quantitative", "axis": null}, "y": {"field": "v", "type": "quantitative", "axis": null}}},
     {"data": {"values": [{"w": 394, "v": 0.074, "t": "394"}]}, "mark": {"type": "text", "align": "left", "baseline": "middle", "dx": 1, "dy": -3, "font": "DejaVu Sans", "fontSize": 11, "color": "#333"},
      "encoding": {"x": {"field": "w", "type": "quantitative", "axis": null}, "y": {"field": "v", "type": "quantitative", "axis": null}, "text": {"field": "t"}}}
    ],
    "resolve": {"axis": {"x": "independent", "y": "independent"}}
   }
  ]}
 ]}
]
}
